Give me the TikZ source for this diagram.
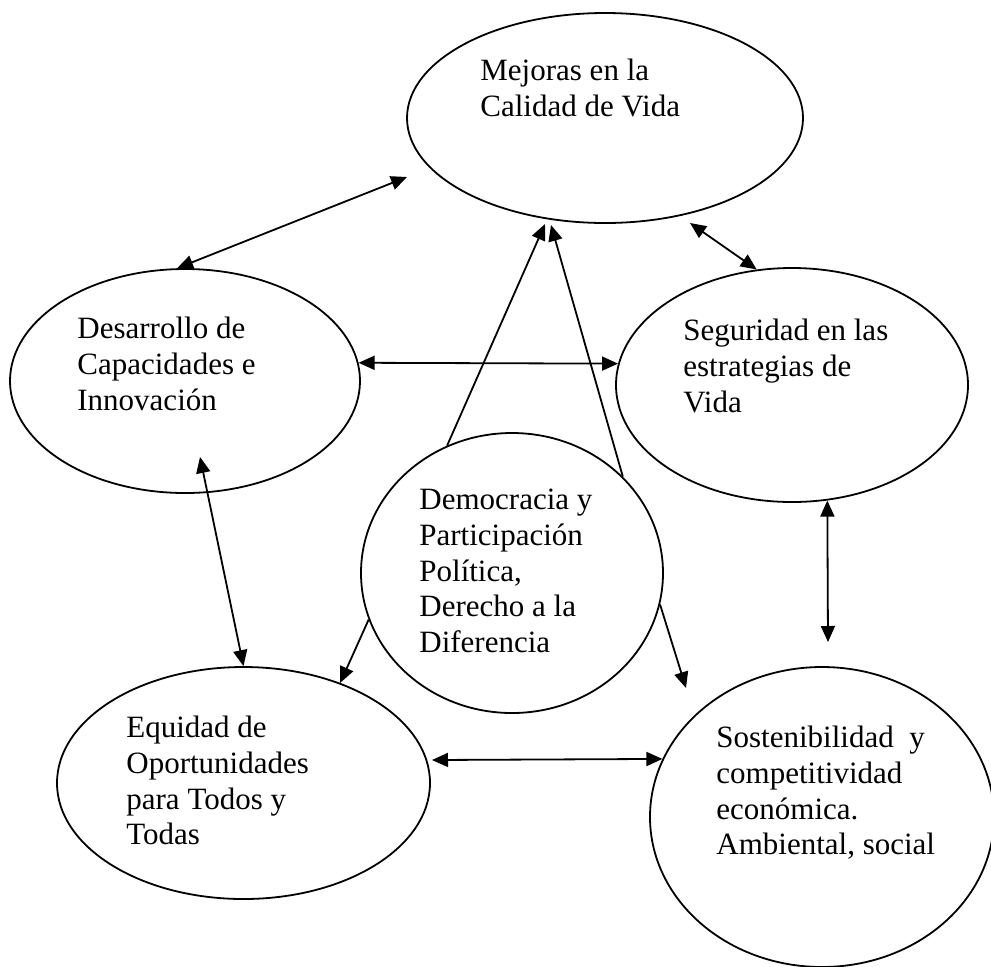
\documentclass[tikz,border=0pt]{standalone}
\usepackage{fontspec}
\setmainfont{Liberation Serif}
\usetikzlibrary{shapes.geometric,arrows.meta}
\tikzset{
  bubble/.style = {shape=ellipse, draw, line width=0.9pt, inner sep=0pt},
  txt/.style    = {anchor=north west, inner sep=0pt, align=left,
                   font=\fontsize{15.5}{17.8}\selectfont},
  link/.style   = {line width=0.9pt}
}

\begin{document}
\begin{tikzpicture}
  [
    x = 0.5pt, y = -0.5pt,
    >= {Triangle[length=8pt,width=7pt]}
  ]
  \useasboundingbox (0,0) rectangle (991,966);

  % ellipses
  \node [bubble, minimum width=198pt, minimum height=105pt] (mejoras) at (605,118) {};
  \node [bubble, minimum width=175pt, minimum height=112pt] (desarrollo) at (185,381) {};
  \node [bubble, minimum width=176pt, minimum height=117pt] (seguridad) at (792,385) {};
  \node [bubble, minimum width=151pt, minimum height=140pt] (democracia) at (512,573) {};
  \node [bubble, minimum width=186.5pt, minimum height=116pt] (equidad) at (243.5,783) {};
  \node [bubble, minimum width=172pt, minimum height=150pt] (sostenib) at (822,817) {};

  % texts
  \node [txt] (tmejoras) at (480,59) {Mejoras en la\\Calidad de Vida};
  \node [txt] (tdesarrollo) at (77,317) {Desarrollo de\\Capacidades e\\Innovación};
  \node [txt] (tseguridad) at (683,319) {Seguridad en las\\estrategias de\\Vida};
  \node [txt] (tdemocracia) at (419,489) {Democracia y\\Participación\\Política,\\Derecho a la\\Diferencia};
  \node [txt] (tequidad) at (126,716) {Equidad de\\Oportunidades\\para Todos y\\Todas};
  \node [txt] (tsostenib) at (716,726) {Sostenibilidad\ \ y\\competitividad\\económica.\\Ambiental, social};

  % free arrow ends
  \coordinate (p1) at (407,177);
  \coordinate (p2) at (690,223);
  \coordinate (p3) at (200,457);
  \coordinate (p4) at (828,642);
  \coordinate (p5) at (432,760);
  \coordinate (p6) at (545,224);
  \coordinate (p7) at (551,225);
  \coordinate (p8) at (686,688);

  \path [<->, link]
    (p1) edge (desarrollo.94)
    (p2) edge (seguridad.107)
    (desarrollo.6) edge (seguridad.173)
    (p3) edge (equidad.90)
    (seguridad.287) edge (p4)
    (p5) edge (sostenib.160);

  \path [->, link]
    (democracia.117) edge (p6)
    (democracia.41) edge (p7)
    (democracia.198) edge (equidad.46)
    (democracia.348) edge (p8);

\end{tikzpicture}
\end{document}
